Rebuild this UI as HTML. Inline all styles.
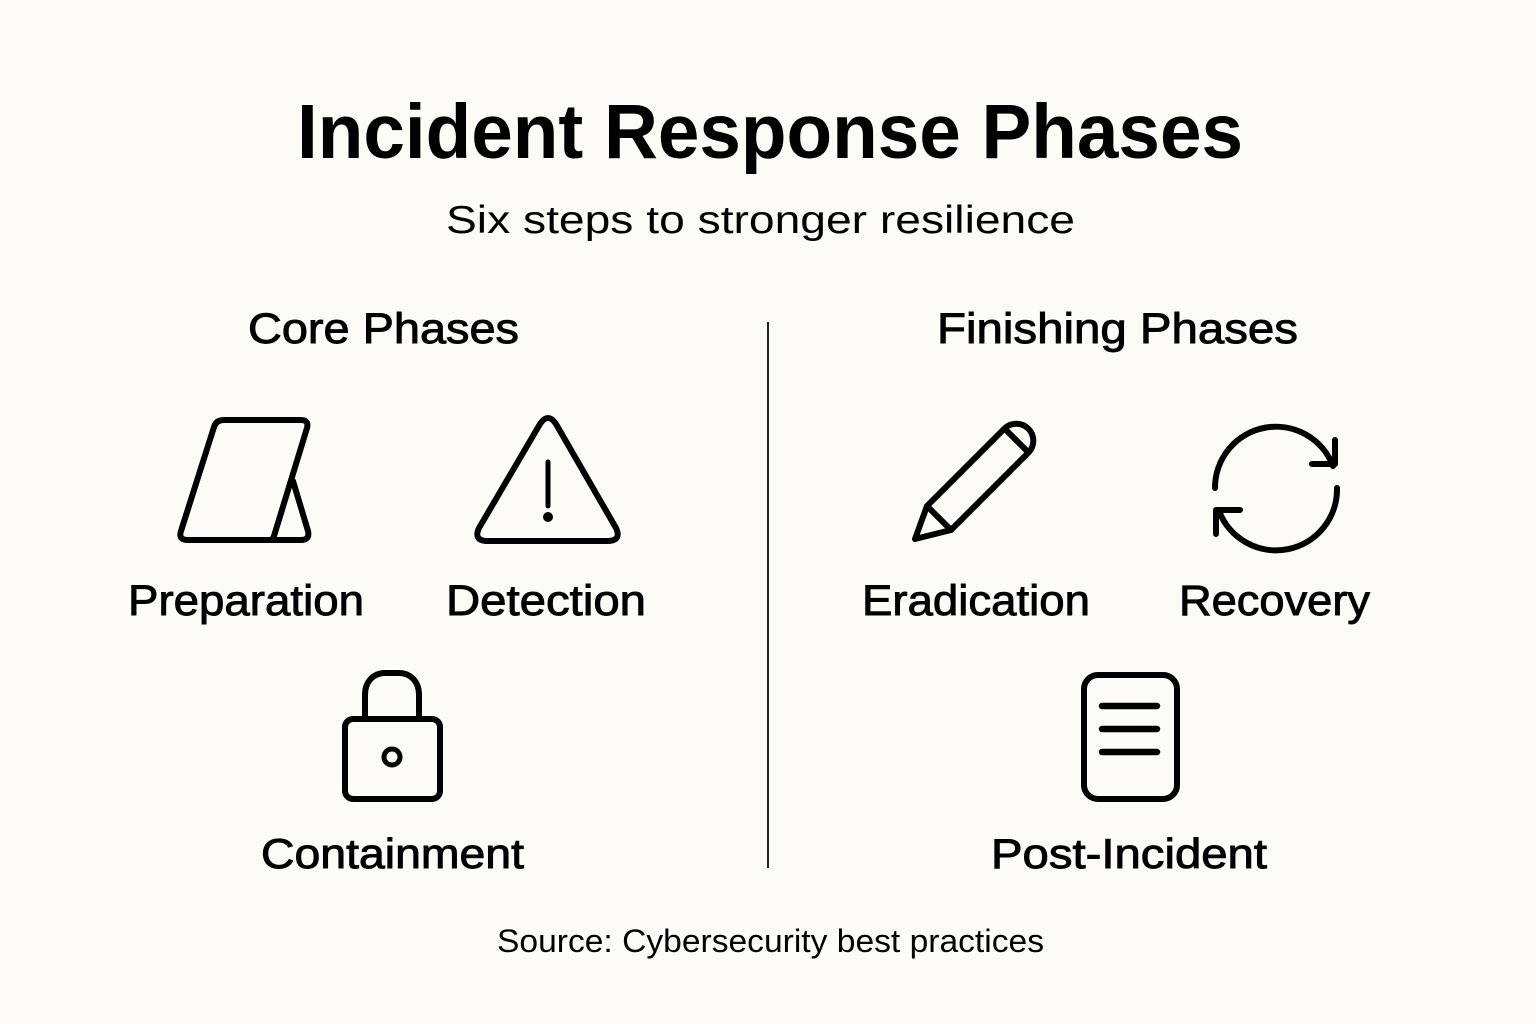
<!DOCTYPE html>
<html>
<head>
<meta charset="utf-8">
<style>
  html, body { margin: 0; padding: 0; background: #fcfbf6; }
  body { width: 1536px; height: 1024px; overflow: hidden; }
  svg { display: block; }
  text { font-family: "Liberation Sans", "DejaVu Sans", sans-serif; fill: #000; }
  .med { stroke: #000; stroke-width: 0.9px; }
</style>
</head>
<body>
<svg width="1536" height="1024" viewBox="0 0 1536 1024" xmlns="http://www.w3.org/2000/svg">
  <rect width="1536" height="1024" fill="#fcfbf6"/>

  <!-- Title -->
  <text x="297" y="158" font-size="77" font-weight="bold" textLength="946" lengthAdjust="spacingAndGlyphs">Incident Response Phases</text>
  <text x="446" y="233" font-size="38.5" textLength="629" lengthAdjust="spacingAndGlyphs">Six steps to stronger resilience</text>

  <!-- Section headers -->
  <text class="med" x="248" y="343" font-size="43" textLength="271" lengthAdjust="spacingAndGlyphs">Core Phases</text>
  <text class="med" x="937" y="343" font-size="43" textLength="361" lengthAdjust="spacingAndGlyphs">Finishing Phases</text>

  <!-- Divider -->
  <line x1="768" y1="322" x2="768" y2="868" stroke="#222" stroke-width="2"/>

  <g fill="none" stroke="#000" stroke-width="6" stroke-linecap="round" stroke-linejoin="round">
    <!-- Preparation icon (tablet with stand) -->
    <path d="M224,420 H301 Q309,420 307,428 L274,536 L272,540 H188 Q178,540 181,531 L214,427 Q216,420 224,420 Z"/>
    <path d="M293,481 L308,531 Q310,540 301,540 H272"/>

    <!-- Detection icon (warning triangle) -->
    <path d="M540,424 Q548,412 556,424 L616,528 Q622,541 607,541 H488 Q473,541 479,528 Z"/>
    <path d="M548,462 L548,506" stroke-width="5"/>
    <circle cx="548" cy="517" r="2" fill="#000"/>

    <!-- Containment icon (lock) -->
    <path d="M365,719 V695 C365,680 375,673 385,673 H399 C409,673 419,680 419,695 V719"/>
    <rect x="345" y="719" width="95" height="80" rx="8"/>
    <circle cx="392" cy="757" r="8" stroke-width="5"/>

    <!-- Eradication icon (pencil) -->
    <path d="M915,539 L927,506 L1005,428 A17,17 0 0 1 1029,452 L951,530 Z"/>
    <path d="M927,506 L951,530"/>
    <path d="M1005,429 L1028,452"/>

    <!-- Recovery icon (refresh) -->
    <path d="M1215,488 A61,61 0 0 1 1333,466"/>
    <path d="M1335,440 V464 H1312"/>
    <path d="M1337,488 A61,61 0 0 1 1219,511"/>
    <path d="M1216,534 V510 H1240"/>

    <!-- Post-Incident icon (document) -->
    <rect x="1084" y="675" width="93" height="124" rx="14"/>
    <path d="M1102,706 H1157 M1102,729 H1157 M1102,752 H1157" stroke-width="6.5"/>
  </g>

  <!-- Labels -->
  <text class="med" x="128" y="615" font-size="43" textLength="236" lengthAdjust="spacingAndGlyphs">Preparation</text>
  <text class="med" x="446" y="615" font-size="43" textLength="200" lengthAdjust="spacingAndGlyphs">Detection</text>
  <text class="med" x="862" y="615" font-size="43" textLength="228" lengthAdjust="spacingAndGlyphs">Eradication</text>
  <text class="med" x="1179" y="615" font-size="43" textLength="191" lengthAdjust="spacingAndGlyphs">Recovery</text>
  <text class="med" x="261" y="868" font-size="42" textLength="263" lengthAdjust="spacingAndGlyphs">Containment</text>
  <text class="med" x="991" y="868" font-size="42" textLength="276" lengthAdjust="spacingAndGlyphs">Post-Incident</text>

  <!-- Source -->
  <text x="497" y="952" font-size="32" textLength="547" lengthAdjust="spacingAndGlyphs">Source: Cybersecurity best practices</text>
</svg>
</body>
</html>
